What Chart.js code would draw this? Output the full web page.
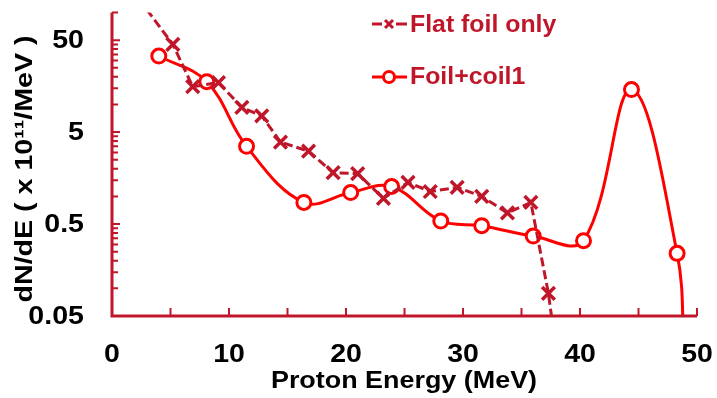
<!DOCTYPE html>
<html>
<head>
<meta charset="utf-8">
<script src="https://cdn.jsdelivr.net/npm/chart.js@4.4.0/dist/chart.umd.min.js"></script>
<style>
  html, body { margin: 0; padding: 0; background: #fff; }
  canvas { display: block; }
</style>
</head>
<body>
<canvas id="grafico" width="717" height="398"></canvas>
<script>
// Flat foil only (x markers, dashed)
const flatFoilEnergy = [2.3, 5.2, 6.9, 9.1, 11.1, 12.8, 14.4, 16.8, 18.9, 21.0, 23.2, 25.3, 27.2, 29.5, 31.6, 33.8, 35.8, 37.3, 37.8];
const flatFoilCount  = [140, 45, 15.6, 17.3, 9.3, 7.5, 3.9, 3.1, 1.81, 1.77, 0.95, 1.42, 1.13, 1.25, 1.0, 0.66, 0.86, 0.088, 0.03];

// Foil+coil1 (circles, smoothed)
const coilEnergy = [4.0, 8.1, 11.5, 16.4, 20.4, 23.9, 28.1, 31.6, 36.0, 40.3, 44.4, 48.3, 48.9];
const coilCount  = [33.6, 17.7, 3.5, 0.86, 1.1, 1.28, 0.54, 0.48, 0.37, 0.33, 14.5, 0.24, 0.02];

const seriesNames = ["Flat foil only", "Foil+coil1"];

const xTickValues = [0, 10, 20, 30, 40, 50];
const xTickLabels = ["0", "10", "20", "30", "40", "50"];
const xMinorTicks = [5, 15, 25, 35, 45];
const yTickValues = [0.05, 0.5, 5, 50];
const yTickLabels = ["0.05", "0.5", "5", "50"];

const xTitle = "Proton Energy (MeV)";
const yTitle = "dN/dE ( x 10\u00B9\u00B9/MeV )";

const vermelhoEscuro = "#c0162a";
const vermelho = "#ff0000";
const fonte = '"Liberation Sans", Arial, sans-serif';

function textoEsticado(ctx, texto, x, y, esticar, alinhar) {
  ctx.save();
  ctx.translate(x, y);
  ctx.scale(esticar, 1);
  ctx.textAlign = alinhar;
  ctx.fillText(texto, 0, 0);
  ctx.restore();
}

const eixosExcel = {
  id: "eixosExcel",
  afterDatasetsDraw(chart) {
    const { ctx, chartArea: a, scales } = chart;
    const sx = scales.x, sy = scales.y;
    const x0 = sx.getPixelForValue(0);
    const y0 = sy.getPixelForValue(0.05);

    ctx.save();
    ctx.strokeStyle = vermelhoEscuro;
    ctx.lineWidth = 3;
    ctx.beginPath();
    ctx.moveTo(x0, a.top);
    ctx.lineTo(x0, y0);
    ctx.lineTo(sx.getPixelForValue(50), y0);
    ctx.stroke();

    // ticks do eixo x, para cima
    ctx.lineWidth = 2;
    ctx.beginPath();
    xTickValues.concat(xMinorTicks).forEach(v => {
      const px = sx.getPixelForValue(v);
      ctx.moveTo(px, y0);
      ctx.lineTo(px, y0 - 8);
    });
    ctx.stroke();

    // ticks do eixo y, para a direita
    ctx.beginPath();
    yTickValues.forEach(base => {
      for (let k = 1; k <= 9; k++) {
        const v = base * k;
        if (v > sy.max + 1e-9) break;
        const py = sy.getPixelForValue(v);
        ctx.moveTo(x0, py);
        ctx.lineTo(x0 + (k === 1 ? 8 : 6), py);
      }
    });
    ctx.stroke();
    ctx.restore();
  },
  afterDraw(chart) {
    const { ctx, scales } = chart;
    const sx = scales.x, sy = scales.y;

    ctx.save();
    ctx.fillStyle = "#000";
    ctx.font = "bold 25px " + fonte;
    ctx.textBaseline = "middle";
    xTickValues.forEach((v, i) => {
      textoEsticado(ctx, xTickLabels[i], sx.getPixelForValue(v), 355, 1.14, "center");
    });
    ctx.font = "bold 26px " + fonte;
    yTickValues.forEach((v, i) => {
      textoEsticado(ctx, yTickLabels[i], 84, sy.getPixelForValue(v) + 1, 1.1, "right");
    });

    ctx.font = "bold 23px " + fonte;
    ctx.textBaseline = "alphabetic";
    textoEsticado(ctx, xTitle, 404, 388, 1.17, "center");

    // titulo do eixo y, girado
    ctx.save();
    ctx.font = "bold 24px " + fonte;
    ctx.translate(32, 169);
    ctx.rotate(-Math.PI / 2);
    const w = ctx.measureText(yTitle).width;
    ctx.scale(267 / w, 1);
    ctx.textAlign = "center";
    ctx.fillText(yTitle, 0, 0);
    ctx.restore();

    // legenda
    ctx.font = "bold 23px " + fonte;
    ctx.fillStyle = vermelhoEscuro;
    textoEsticado(ctx, seriesNames[0], 410, 32, 1.08, "left");
    textoEsticado(ctx, seriesNames[1], 410, 84, 1.08, "left");

    ctx.strokeStyle = vermelhoEscuro;
    ctx.lineWidth = 3;
    ctx.beginPath();
    ctx.moveTo(372, 24); ctx.lineTo(382, 24);
    ctx.moveTo(396, 24); ctx.lineTo(407, 24);
    ctx.moveTo(385, 20); ctx.lineTo(393, 28);
    ctx.moveTo(393, 20); ctx.lineTo(385, 28);
    ctx.stroke();

    ctx.strokeStyle = vermelho;
    ctx.beginPath();
    ctx.moveTo(372, 77); ctx.lineTo(407, 77);
    ctx.stroke();
    ctx.fillStyle = "#fff";
    ctx.beginPath();
    ctx.arc(389, 77, 5.5, 0, Math.PI * 2);
    ctx.fill();
    ctx.stroke();
    ctx.restore();
  }
};

const ctx = document.getElementById("grafico").getContext("2d");

new Chart(ctx, {
  type: "line",
  data: {
    datasets: [
      {
        label: seriesNames[0],
        data: flatFoilEnergy.map((e, i) => ({ x: e, y: flatFoilCount[i] })),
        borderColor: vermelhoEscuro,
        borderWidth: 3,
        borderDash: [9, 4],
        tension: 0,
        pointStyle: "crossRot",
        pointRadius: 9,
        pointBorderWidth: 3.5,
        pointBorderColor: vermelhoEscuro
      },
      {
        label: seriesNames[1],
        data: coilEnergy.map((e, i) => ({ x: e, y: coilCount[i] })),
        borderColor: vermelho,
        borderWidth: 3,
        tension: 0.38,
        pointStyle: "circle",
        pointRadius: 7,
        pointBorderWidth: 3,
        pointBorderColor: vermelho,
        pointBackgroundColor: "#fff"
      }
    ]
  },
  options: {
    responsive: false,
    animation: false,
    layout: { padding: { left: 112, right: 20, top: 12, bottom: 82 } },
    scales: {
      x: { type: "linear", min: 0, max: 50, display: false },
      y: { type: "logarithmic", min: 0.05, max: 100, display: false }
    },
    plugins: {
      legend: { display: false },
      tooltip: { enabled: false }
    }
  },
  plugins: [eixosExcel]
});
</script>
</body>
</html>
